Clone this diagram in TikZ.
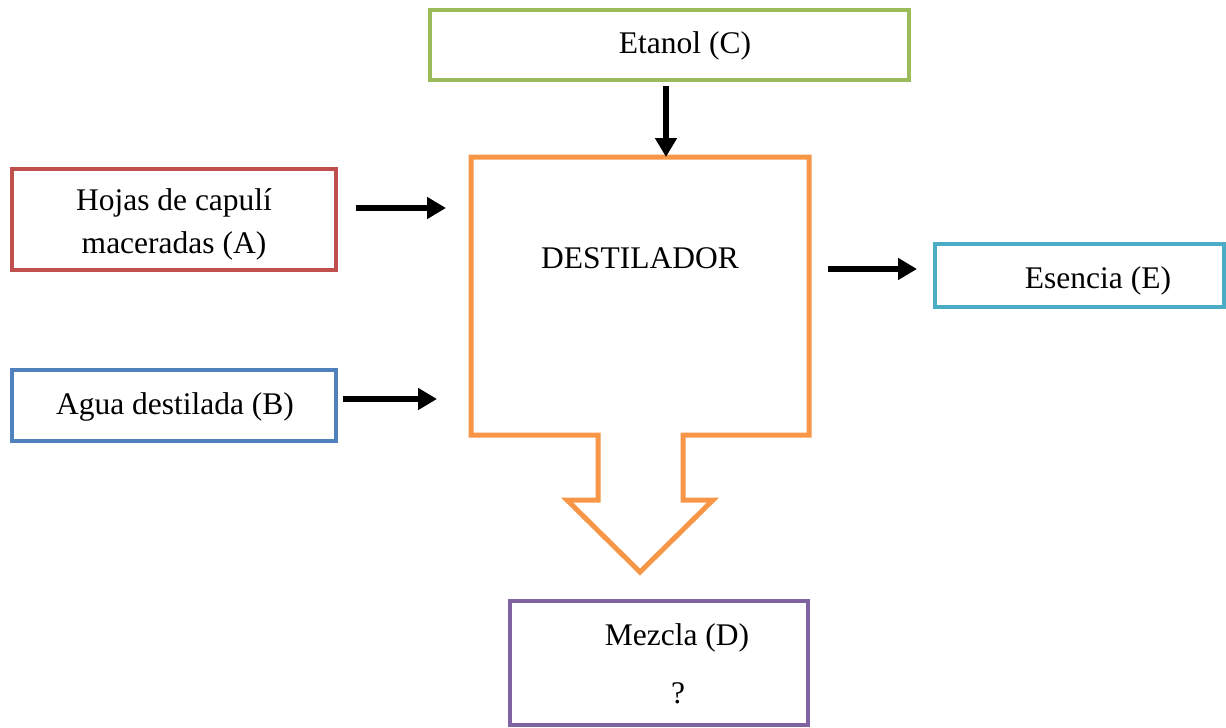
\documentclass[tikz,border=0pt]{standalone}
\usepackage{fontspec}
\setmainfont{Liberation Serif}
\usetikzlibrary{arrows.meta}
\definecolor{cgreen}{HTML}{9BBB59}
\definecolor{cred}{HTML}{C0504D}
\definecolor{cblue}{HTML}{4F81BD}
\definecolor{ccyan}{HTML}{4BACC6}
\definecolor{corange}{HTML}{F79646}
\definecolor{cpurple}{HTML}{8064A2}
\tikzset{
  box/.style={draw=#1, line width=4.5pt, rectangle, inner sep=0pt, fill=white},
  txt/.style={anchor=base, inner sep=0pt, font=\fontsize{31.5}{43}\selectfont},
  flow/.style={line width=5.5pt, -{Triangle[length=19pt,width=21pt]}},
}
\begin{document}
\begin{tikzpicture}[x=1pt,y=-1pt]
\useasboundingbox[fill=white] (0,0) rectangle (1226,728);
% boxes
\node[box=cgreen, minimum width=479pt, minimum height=70pt] (C) at (669.5,45) {};
\node[box=cred, minimum width=324pt, minimum height=101pt] (A) at (174,219.5) {};
\node[box=cblue, minimum width=324pt, minimum height=71pt] (B) at (174,405.5) {};
\node[box=ccyan, minimum width=289pt, minimum height=63pt] (E) at (1079.5,275.5) {};
\node[box=cpurple, minimum width=298pt, minimum height=124pt] (D) at (659,663) {};
% destilador outline
\draw[corange, line width=5pt, line join=miter]
  (471,157) -- (809,157) -- (809,435) -- (683,435) -- (683,500) -- (713,500)
  -- (640,572) -- (567,500) -- (598,500) -- (598,435) -- (471,435) -- cycle;
% texts
\node[txt] (Ct) at (685,53) {Etanol (C)};
\node[txt] (At1) at (174,210.5) {Hojas de capulí};
\node[txt] (At2) at (174,253.5) {maceradas (A)};
\node[txt] (Bt) at (175,414.5) {Agua destilada (B)};
\node[txt] (Xt) at (640,268.5) {DESTILADOR};
\node[txt] (Et) at (1098,288) {Esencia (E)};
\node[txt] (Dt1) at (677,645) {Mezcla (D)};
\node[txt] (Dt2) at (678,703) {?};
% arrow ends
\coordinate (a0) at (356,208); \coordinate (a1) at (446,208);
\coordinate (b0) at (343,399); \coordinate (b1) at (437,399);
\coordinate (c0) at (666,86);  \coordinate (c1) at (666,157);
\coordinate (e0) at (828,269); \coordinate (e1) at (917,269);
\draw[flow] (a0) -- (a1);
\draw[flow] (b0) -- (b1);
\draw[flow] (c0) -- (c1);
\draw[flow] (e0) -- (e1);
\end{tikzpicture}
\end{document}
